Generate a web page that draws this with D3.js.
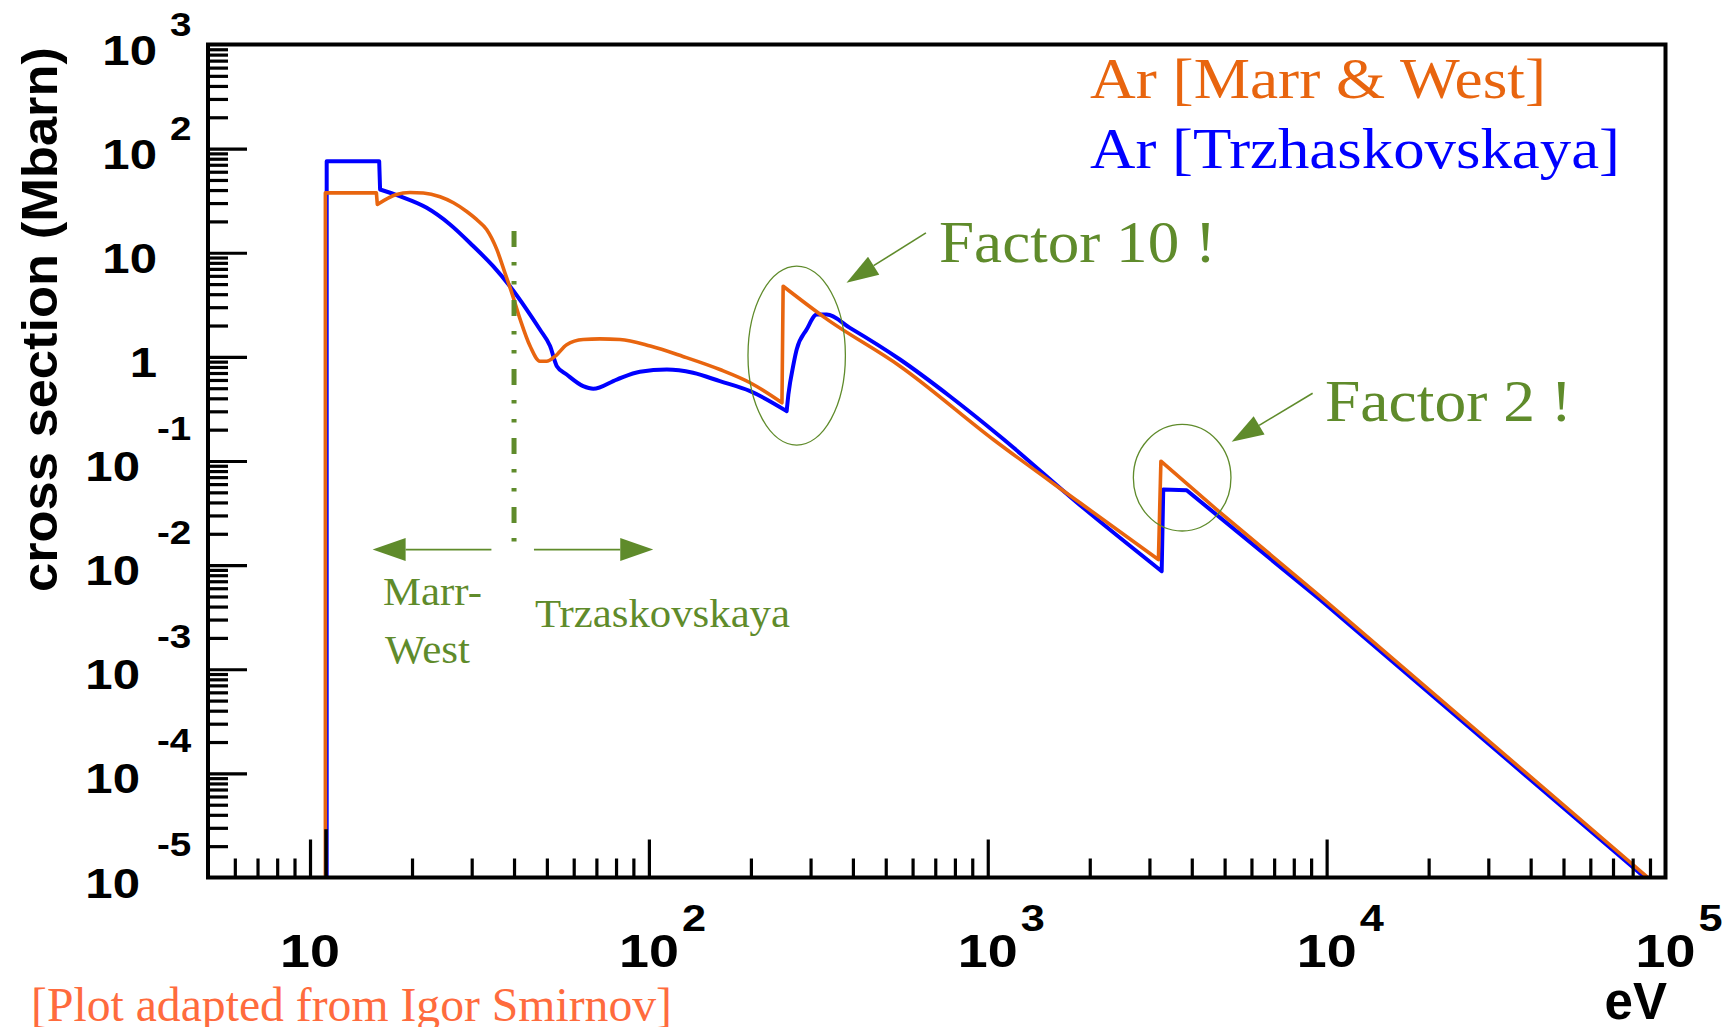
<!DOCTYPE html>
<html><head><meta charset="utf-8">
<script src="https://cdn.jsdelivr.net/npm/d3@7"></script>
<style>html,body{margin:0;padding:0;background:#fff}svg{display:block}</style>
</head><body>
<svg id="c" width="1736" height="1027"></svg>
<script>
// ---------- data (energy in eV, cross section in Mbarn) ----------
const energyMW = [11.1, 11.1, 15.7, 15.8, 18.0, 19.7, 21.6, 24.2, 26.5, 29.0, 31.0, 33.2, 35.6, 37.6, 39.4, 41.7, 44.6, 47.7, 49.9, 52.8, 57.2, 64.0, 71.7, 82.2, 101, 126, 162, 199, 247, 249, 331, 551, 1038, 1871, 3189, 3243, 4738, 9555, 88760];
const sigmaMW  = [1e-5, 37.6, 37.6, 29.1, 36.3, 37.9, 37.5, 34.5, 30.2, 24.9, 20.9, 16.7, 10.7, 6.42, 4.12, 2.29, 1.27, 0.909, 0.909, 1.01, 1.31, 1.47, 1.49, 1.47, 1.27, 1.01, 0.756, 0.564, 0.362, 4.77, 2.37, 0.814, 0.161, 0.0397, 0.0113, 0.0996, 0.0342, 0.00503, 1e-5];
const energyTr = [11.2, 11.2, 16.0, 16.1, 18.4, 22.1, 25.9, 30.3, 34.7, 38.9, 43.6, 47.7, 51.1, 53.5, 57.2, 64.0, 68.5, 80.4, 94.1, 113, 135, 162, 199, 255, 258, 261, 273, 292, 313, 335, 392, 551, 773, 1086, 1913, 3260, 3295, 3863, 9555, 86960];
const sigmaTr  = [1e-5, 75.7, 75.7, 40.5, 34.9, 27.0, 18.7, 11.6, 7.43, 4.77, 2.85, 1.83, 1.27, 0.814, 0.677, 0.523, 0.494, 0.606, 0.719, 0.756, 0.703, 0.584, 0.468, 0.301, 0.435, 0.564, 1.18, 1.83, 2.55, 2.55, 1.90, 0.944, 0.419, 0.173, 0.0355, 0.00874, 0.0532, 0.0524, 0.00468, 1e-5];
const thresholdStub = {E: 11.15, from: 1e-5, to: 2.9e-5};
const straightAboveE = 3000; // above the K edge the curves are straight power laws

const seriesNames = ["Ar [Marr & West]", "Ar [Trzhaskovskaya]"];
const xMajorTicks = [10, 100, 1000, 10000];
const xTickLabels = [{v: 10, base: "10", exp: ""}, {v: 100, base: "10", exp: "2"}, {v: 1000, base: "10", exp: "3"}, {v: 10000, base: "10", exp: "4"}, {v: 100000, base: "10", exp: "5"}];
const yTickLabels = [{v: 1e3, base: "10", exp: "3"}, {v: 1e2, base: "10", exp: "2"}, {v: 1e1, base: "10", exp: ""}, {v: 1, base: "1", exp: ""}, {v: 1e-1, base: "10", exp: "-1"}, {v: 1e-2, base: "10", exp: "-2"}, {v: 1e-3, base: "10", exp: "-3"}, {v: 1e-4, base: "10", exp: "-4"}, {v: 1e-5, base: "10", exp: "-5"}];
const yMajorTicks = [1e-4, 1e-3, 1e-2, 1e-1, 1, 10, 100];

// annotations in data coordinates
const boundaryE = 40, boundarySigma = [16.2, 0.012];
const regionArrows = [{from: [34.3, 0.0141], to: [15.3, 0.0141]}, {from: [45.8, 0.0141], to: [103, 0.0141]}];
const edgeMarks = [{E: 273, s: 1.03, rx: 48.7, ry: 89.5}, {E: 3747, s: 0.0691, rx: 48.8, ry: 53.3}];
const factorArrows = [{from: [657, 15.5], to: [383, 5.16]}, {from: [9093, 0.447], to: [5245, 0.153]}];

// ---------- drawing ----------
const ORANGE = "#e8650f", BLUE = "#0000ff", GREEN = "#5f8b2b";
const SANS = "'Liberation Sans', Arial, Helvetica, sans-serif";
const SERIF = "'Liberation Serif', 'Times New Roman', Times, serif";
const svg = d3.select("#c");
const x = d3.scaleLog().domain([5, 1e5]).range([208, 1665.5]);
const y = d3.scaleLog().domain([1e-5, 1e3]).range([877.5, 44.5]);
const [X0, X1] = x.range(), [Y0, Y1] = y.range();

svg.append("defs").append("clipPath").attr("id", "frame")
  .append("rect").attr("x", X0).attr("y", Y1).attr("width", X1 - X0).attr("height", Y0 - Y1);

const plot = svg.append("g").attr("clip-path", "url(#frame)");
// smooth runs (monotone) joined by straight jumps at absorption edges; straight above the K edge
const smooth = d3.line().x(d => x(d[0])).y(d => y(d[1])).curve(d3.curveMonotoneX);
const straight = d3.line().x(d => x(d[0])).y(d => y(d[1]));
function edgePath(E, S) {
  const runs = []; let cur = [[E[0], S[0]]];
  for (let i = 1; i < E.length; i++) {
    if (E[i] / E[i - 1] < 1.02) { runs.push(cur); cur = []; }
    cur.push([E[i], S[i]]);
  }
  runs.push(cur);
  return runs.map((r, i) => {
    let p;
    if (r.length === 1) p = `M${x(r[0][0])},${y(r[0][1])}`;
    else p = (r[0][0] >= straightAboveE ? straight : smooth)(r);
    return i === 0 ? p : "L" + p.slice(1);
  }).join("");
}
plot.append("path").attr("d", edgePath(energyTr, sigmaTr)).attr("fill", "none").attr("stroke", BLUE).attr("stroke-width", 4).attr("stroke-linejoin", "round");
plot.append("path").attr("d", edgePath(energyMW, sigmaMW)).attr("fill", "none").attr("stroke", ORANGE).attr("stroke-width", 3.6).attr("stroke-linejoin", "round");
plot.append("line").attr("x1", x(thresholdStub.E)).attr("x2", x(thresholdStub.E))
  .attr("y1", y(thresholdStub.from)).attr("y2", y(thresholdStub.to)).attr("stroke", "#000").attr("stroke-width", 3.5);

// ticks via d3 axes
const xMinor = [], yMinor = [];
for (let k = 0; k <= 4; k++) for (let m = 2; m <= 9; m++) { const v = m * Math.pow(10, k); if (v > 5 && v < 1e5) xMinor.push(v); }
for (let k = -5; k <= 2; k++) for (let m = 2; m <= 9; m++) yMinor.push(m * Math.pow(10, k));
function styleAxis(g) { g.select(".domain").remove(); g.selectAll("line").attr("stroke", "#000").attr("stroke-width", 3.2); g.selectAll("text").remove(); }
svg.append("g").attr("transform", `translate(0,${Y0})`).call(d3.axisBottom(x).tickValues(xMinor).tickSize(-19).tickFormat("")).call(styleAxis);
svg.append("g").attr("transform", `translate(0,${Y0})`).call(d3.axisBottom(x).tickValues(xMajorTicks).tickSize(-38).tickFormat("")).call(styleAxis);
svg.append("g").attr("transform", `translate(${X0},0)`).call(d3.axisLeft(y).tickValues(yMinor).tickSize(-20).tickFormat("")).call(styleAxis);
svg.append("g").attr("transform", `translate(${X0},0)`).call(d3.axisLeft(y).tickValues(yMajorTicks).tickSize(-39).tickFormat("")).call(styleAxis);

// frame
svg.append("rect").attr("x", X0).attr("y", Y1).attr("width", X1 - X0).attr("height", Y0 - Y1)
  .attr("fill", "none").attr("stroke", "#000").attr("stroke-width", 4);

// tick labels
const SX = 1.17;
function lab(tx, ty, txt, size, anchor) {
  svg.append("text").attr("transform", `translate(${tx},${ty}) scale(${SX},1)`)
    .attr("text-anchor", anchor).attr("font-family", SANS).attr("font-weight", "bold")
    .attr("font-size", size).attr("fill", "#000").text(txt);
}
xTickLabels.forEach(d => {
  lab(x(d.v), 967, d.base, 46, "middle");
  if (d.exp) lab(x(d.v) + 33, 931, d.exp, 37, "start");
});
yTickLabels.forEach(d => {
  const ty = y(d.v), neg = d.exp.startsWith("-");
  lab(neg ? 140 : 157, ty + 20, d.base, 42, "end");
  if (d.exp) lab(neg ? 157 : 170, neg ? ty - 21.5 : ty - 9, d.exp, 33, "start");
});

// axis titles
svg.append("text").attr("transform", `translate(57,${(47 + 592) / 2}) rotate(-90)`)
  .attr("text-anchor", "middle").attr("font-family", SANS).attr("font-weight", "bold").attr("font-size", 50)
  .attr("textLength", 545).attr("lengthAdjust", "spacingAndGlyphs").text("cross section (Mbarn)");
svg.append("text").attr("x", 1667).attr("y", 1019).attr("text-anchor", "end")
  .attr("font-family", SANS).attr("font-weight", "bold").attr("font-size", 51).text("eV");

// legend
function stext(tx, ty, txt, size, color, len) {
  svg.append("text").attr("x", tx).attr("y", ty).attr("font-family", SERIF).attr("font-size", size)
    .attr("fill", color).attr("textLength", len).attr("lengthAdjust", "spacingAndGlyphs").text(txt);
}
stext(1090, 98, seriesNames[0], 57, ORANGE, 456);
stext(1090, 168, seriesNames[1], 57, BLUE, 530);

// annotations
const ann = svg.append("g");
ann.append("line").attr("x1", x(boundaryE)).attr("x2", x(boundaryE))
  .attr("y1", y(boundarySigma[0])).attr("y2", y(boundarySigma[1]))
  .attr("stroke", GREEN).attr("stroke-width", 5).attr("stroke-dasharray", "16,15,3.5,15.5,3.5,15.5");
function arrow(x1, y1, x2, y2, hl, hw) {
  const dx = x2 - x1, dy = y2 - y1, L = Math.hypot(dx, dy), ux = dx / L, uy = dy / L;
  const bx = x2 - ux * hl, by = y2 - uy * hl;
  ann.append("line").attr("x1", x1).attr("y1", y1).attr("x2", bx).attr("y2", by).attr("stroke", GREEN).attr("stroke-width", 1.6);
  ann.append("path").attr("d", `M${x2},${y2}L${bx - uy * hw},${by + ux * hw}L${bx + uy * hw},${by - ux * hw}Z`).attr("fill", GREEN);
}
regionArrows.forEach(a => arrow(x(a.from[0]), y(a.from[1]), x(a.to[0]), y(a.to[1]), 33, 11.5));
factorArrows.forEach(a => arrow(x(a.from[0]), y(a.from[1]), x(a.to[0]), y(a.to[1]), 32, 10.6));
edgeMarks.forEach(m => ann.append("ellipse").attr("cx", x(m.E)).attr("cy", y(m.s)).attr("rx", m.rx).attr("ry", m.ry)
  .attr("fill", "none").attr("stroke", GREEN).attr("stroke-width", 1.3));

stext(383, 605, "Marr-", 41, GREEN, 99);
stext(385, 663, "West", 41, GREEN, 85);
stext(535, 627, "Trzaskovskaya", 41, GREEN, 255);
stext(939, 262, "Factor 10 !", 60, GREEN, 277);
stext(1325, 421, "Factor 2 !", 60, GREEN, 247);

// source note (cut by the lower edge, as in the original)
stext(31, 1021, "[Plot adapted from Igor Smirnov]", 48, "#ff6b3d", 641);
</script>
</body></html>
